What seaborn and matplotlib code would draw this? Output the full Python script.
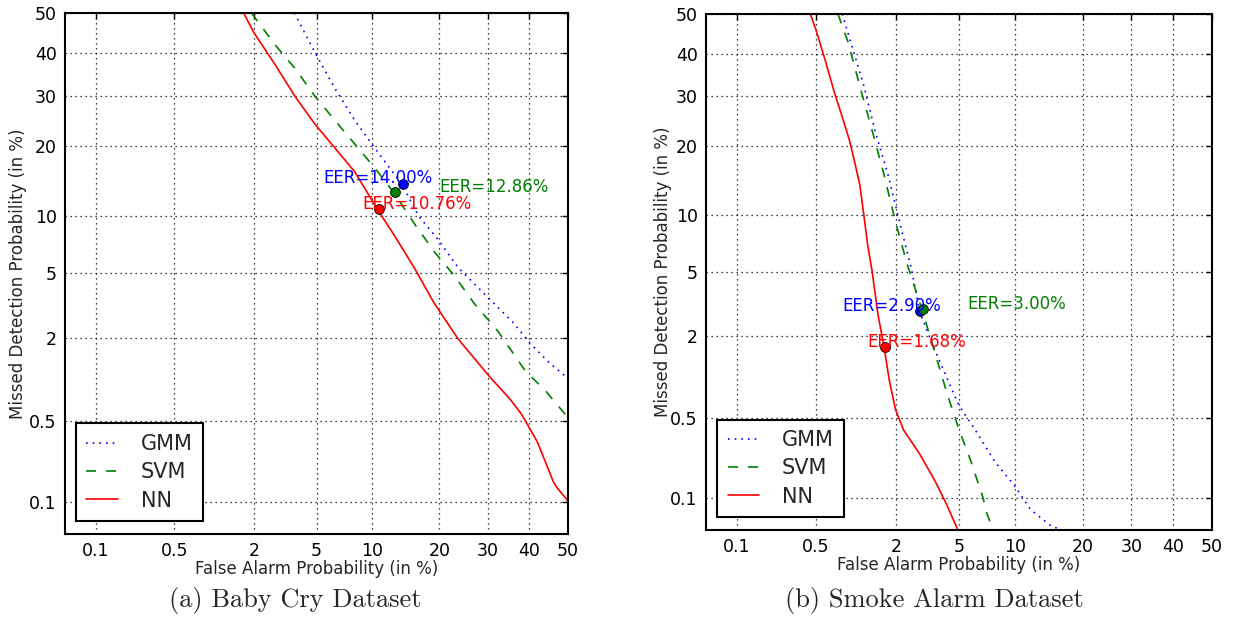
import math
import numpy as np
import pandas as pd
import matplotlib
matplotlib.use("Agg")
import matplotlib.pyplot as plt
from matplotlib.ticker import FixedLocator, FixedFormatter
import seaborn as sns

# ---------------- data (percent) ----------------
models = ["GMM", "SVM", "NN"]
tick_values = [0.1, 0.5, 2, 5, 10, 20, 30, 40, 50]
tick_labels = ["0.1", "0.5", "2", "5", "10", "20", "30", "40", "50"]

# (a) Baby Cry
baby_gmm_fa = [3.67, 4.9, 6.36, 8.15, 10.3, 13.9, 16.4, 19.8, 23.6, 30.4, 36.1, 40.1, 45.1, 50.0]
baby_gmm_md = [50.0, 40.1, 31.7, 24.9, 19.7, 13.9, 10.0, 7.6, 5.4, 3.54, 2.51, 1.86, 1.36, 1.05]
baby_svm_fa = [1.92, 2.77, 3.71, 4.9, 6.36, 8.15, 10.3, 12.75, 15.7, 19.05, 22.8, 26.9, 32.3, 39.0, 44.1, 50.0]
baby_svm_md = [50.0, 42.0, 36.3, 29.9, 24.9, 20.4, 16.4, 12.8, 9.2, 6.6, 4.88, 3.35, 2.23, 1.19, 0.854, 0.53]
baby_nn_fa = [1.69, 2.0, 2.77, 3.71, 4.9, 6.36, 8.15, 10.66, 12.8, 15.7, 19.05, 23.6, 30.4, 35.1, 38.1, 42.1, 46.2, 47.2, 50.0]
baby_nn_md = [50.0, 45.0, 37.2, 29.9, 24.1, 19.7, 15.8, 10.7, 8.0, 5.4, 3.35, 1.98, 1.08, 0.745, 0.562, 0.335, 0.153, 0.135, 0.103]
baby_eer = [14.00, 12.86, 10.76]

# (b) Smoke Alarm
smoke_gmm_fa = [0.81, 0.96, 1.18, 1.44, 1.75, 2.11, 2.54, 2.86, 3.40, 4.03, 5.0, 6.17, 7.9, 9.97, 11.9, 14.7, 16.9]
smoke_gmm_md = [50.0, 41.9, 32.3, 22.2, 15.4, 9.2, 5.12, 2.87, 1.82, 1.16, 0.62, 0.398, 0.213, 0.130, 0.078, 0.0546, 0.048]
smoke_svm_fa = [0.75, 0.897, 1.10, 1.35, 1.64, 1.98, 2.39, 2.94, 3.6, 4.25, 5.0, 5.86, 6.82, 7.17, 7.71]
smoke_svm_md = [50.0, 42.9, 32.3, 23.0, 15.4, 9.2, 5.4, 3.04, 1.50, 0.767, 0.398, 0.213, 0.101, 0.071, 0.050]
smoke_nn_fa = [0.45, 0.50, 0.60, 0.70, 0.80, 0.92, 1.00, 1.10, 1.18, 1.26, 1.35, 1.49, 1.65, 1.80, 1.98, 2.24, 2.86, 3.60, 4.25, 4.96]
smoke_nn_md = [50.0, 46.0, 38.0, 31.0, 26.0, 21.0, 17.5, 13.8, 9.9, 6.95, 5.12, 2.78, 1.66, 0.946, 0.577, 0.398, 0.25, 0.142, 0.085, 0.048]
smoke_eer = [2.90, 3.00, 1.68]

# ---------------- probit (normal deviate) scale ----------------
_a = [-3.969683028665376e+01, 2.209460984245205e+02, -2.759285104469687e+02,
      1.383577518672690e+02, -3.066479806614716e+01, 2.506628277459239e+00]
_b = [-5.447609879822406e+01, 1.615858368580409e+02, -1.556989798598866e+02,
      6.680131188771972e+01, -1.328068155288572e+01]
_c = [-7.784894002430293e-03, -3.223964580411365e-01, -2.400758277161838e+00,
      -2.549732539343734e+00, 4.374664141464968e+00, 2.938163982698783e+00]
_d = [7.784695709041462e-03, 3.224671290700398e-01, 2.445134137142996e+00,
      3.754408661907416e+00]


def _ppf(p):
    p = np.clip(np.asarray(p, dtype=float), 1e-12, 1 - 1e-12)
    out = np.empty_like(p)
    plow = 0.02425
    lo = p < plow
    hi = p > 1 - plow
    mid = ~(lo | hi)
    q = np.sqrt(-2 * np.log(p[lo]))
    out[lo] = (((((_c[0]*q+_c[1])*q+_c[2])*q+_c[3])*q+_c[4])*q+_c[5]) / \
              ((((_d[0]*q+_d[1])*q+_d[2])*q+_d[3])*q+1)
    q = np.sqrt(-2 * np.log(1 - p[hi]))
    out[hi] = -(((((_c[0]*q+_c[1])*q+_c[2])*q+_c[3])*q+_c[4])*q+_c[5]) / \
              ((((_d[0]*q+_d[1])*q+_d[2])*q+_d[3])*q+1)
    q = p[mid] - 0.5
    r = q*q
    out[mid] = (((((_a[0]*r+_a[1])*r+_a[2])*r+_a[3])*r+_a[4])*r+_a[5])*q / \
               (((((_b[0]*r+_b[1])*r+_b[2])*r+_b[3])*r+_b[4])*r+1)
    return out


_erf = np.vectorize(math.erf, otypes=[float])


def fwd(v):
    return _ppf(np.asarray(v, dtype=float) / 100.0)


def inv(z):
    z = np.asarray(z, dtype=float)
    return 100.0 * 0.5 * (1.0 + _erf(z / math.sqrt(2.0)))


# ---------------- style ----------------
sns.set_style("white")
plt.rcParams["font.family"] = ["DejaVu Sans"]
plt.rcParams["lines.dashed_pattern"] = [6, 6]
plt.rcParams["lines.dotted_pattern"] = [1, 3]

colors = {"GMM": "#0000ff", "SVM": "#008000", "NN": "#ff0000"}
styles = {"GMM": ":", "SVM": "--", "NN": "-"}

fig = plt.figure(figsize=(12.4, 6.22), dpi=100)
ax1 = fig.add_axes([65/1240, 1-534/622, 503/1240, 521/622])
ax2 = fig.add_axes([706/1240, 1-529.5/622, 506/1240, 515.5/622])

panels = [
    (ax1, [(baby_gmm_fa, baby_gmm_md), (baby_svm_fa, baby_svm_md), (baby_nn_fa, baby_nn_md)], baby_eer,
     [(5.5, 14.9), (20.0, 13.6), (8.9, 11.4)], "(a) Baby Cry Dataset", 295/1240, (0.022, 0.025), 1.5),
    (ax2, [(smoke_gmm_fa, smoke_gmm_md), (smoke_svm_fa, smoke_svm_md), (smoke_nn_fa, smoke_nn_md)], smoke_eer,
     [(0.81, 3.12), (5.56, 3.2), (1.26, 1.82)], "(b) Smoke Alarm Dataset", 934/1240, (0.022, 0.024), -1),
]

for ax, curves, eers, txtpos, caption, cx, anchor, ypad in panels:
    ax.set_xscale("function", functions=(fwd, inv))
    ax.set_yscale("function", functions=(fwd, inv))
    for m, (fa, md) in zip(models, curves):
        df = pd.DataFrame({"fa": fa, "md": md})
        sns.lineplot(data=df, x="fa", y="md", ax=ax, sort=False, estimator=None,
                     color=colors[m], linestyle=styles[m], linewidth=1.2, label=m)
    for m, e, (tx, ty) in zip(models, eers, txtpos):
        sns.scatterplot(x=[e], y=[e], ax=ax, color=colors[m], s=50,
                        edgecolor="black", linewidth=0.6, zorder=5, legend=False)
        ax.text(tx, ty, "EER=%.2f%%" % e, color=colors[m], fontsize=12,
                ha="left", va="center", zorder=6)
    ax.set_xlim(0.05, 50)
    ax.set_ylim(0.05, 50)
    ax.xaxis.set_major_locator(FixedLocator(tick_values))
    ax.xaxis.set_major_formatter(FixedFormatter(tick_labels))
    ax.yaxis.set_major_locator(FixedLocator(tick_values))
    ax.yaxis.set_major_formatter(FixedFormatter(tick_labels))
    ax.xaxis.set_minor_locator(FixedLocator([]))
    ax.yaxis.set_minor_locator(FixedLocator([]))
    ax.grid(True, color="black", linestyle=":", linewidth=0.9)
    ax.tick_params(axis="both", which="major", direction="in", length=4, width=1,
                   top=True, right=True, labelsize=12.5, colors="black", pad=6)
    for s in ax.spines.values():
        s.set_color("black")
        s.set_linewidth(1.5)
        s.set_visible(True)
    ax.set_xlabel("False Alarm Probability (in %)", fontsize=12, labelpad=0)
    ax.set_ylabel("Missed Detection Probability (in %)", fontsize=12, labelpad=ypad)
    leg = ax.legend(loc="lower left", fontsize=15, fancybox=False, frameon=True,
                    edgecolor="black", framealpha=1, handlelength=1.5,
                    handletextpad=1.1, labelspacing=0.4, borderpad=0.5,
                    borderaxespad=0, bbox_to_anchor=anchor)
    leg.get_frame().set_linewidth(1.5)
    fig.text(cx, 1 - 601/622, caption, fontsize=19, family="cmr10",
             ha="center", va="center")

fig.savefig("out.png", dpi=100)
